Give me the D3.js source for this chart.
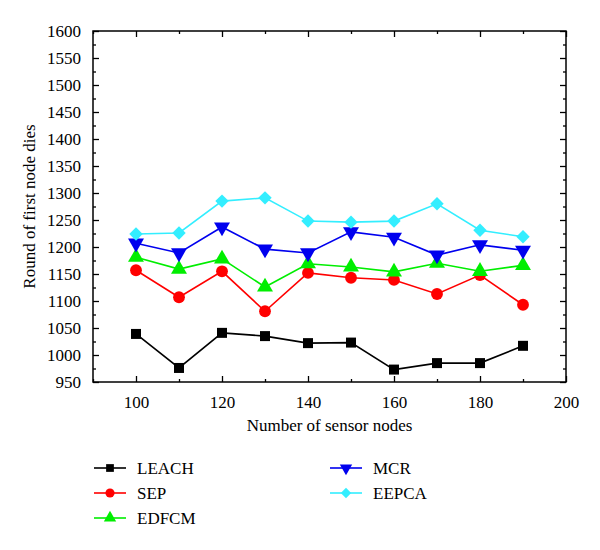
<!DOCTYPE html>
<html><head><meta charset="utf-8">
<script src="https://cdn.jsdelivr.net/npm/d3@7"></script>
<style>body{margin:0;background:#fff}svg{display:block}</style>
</head><body><svg id="c" width="600" height="550"></svg>
<script>
const xValues = [100,110,120,130,140,150,160,170,180,190];
const seriesNames = ["LEACH","SEP","EDFCM","MCR","EEPCA"];
const leach = [1039,976,1041,1035,1022,1023,973,985,985,1017];
const sep   = [1157,1107,1155,1081,1152,1143,1139,1113,1148,1093];
const edfcm = [1181,1159,1178,1126,1169,1163,1154,1170,1155,1166];
const mcr   = [1207,1189,1237,1196,1189,1228,1218,1185,1204,1194];
const eepca = [1224,1226,1285,1291,1248,1246,1248,1280,1231,1219];
const xTicks = [100,120,140,160,180,200];
const yTicks = d3.range(950,1601,50);

(function(){
const FONT = "'Liberation Serif', Tinos, 'Noto Serif', 'DejaVu Serif', 'Nimbus Roman', FreeSerif, Times, serif";
const colors = ["#000000","#ff0000","#00ee00","#0000ee","#33eeff"];
const symbols = [d3.symbolSquare,d3.symbolCircle,d3.symbolTriangle,d3.symbolTriangle,d3.symbolSquare];
const rotations = [0,0,0,180,45];
const sizes = [100,110,110,110,90];
const data = [leach,sep,edfcm,mcr,eepca];

const svg = d3.select("#c");
const L=93,R=566,T=31,B=382;
const x = d3.scaleLinear().domain([90,200]).range([L,R]);
const y = d3.scaleLinear().domain([950,1600]).range([B,T]);

svg.append("rect").attr("x",L).attr("y",T).attr("width",R-L).attr("height",B-T)
  .attr("fill","none").attr("stroke","#000").attr("stroke-width",1.5);

const fs = "17px";
const minorX = d3.range(90,201,10).filter(v=>v%20!==0);
const minorY = d3.range(975,1600,50);
const gs = [];
gs.push(svg.append("g").attr("transform",`translate(0,${B})`)
  .call(d3.axisBottom(x).tickValues(xTicks).tickSize(-6).tickPadding(14).tickFormat(d3.format("d"))));
gs.push(svg.append("g").attr("transform",`translate(0,${B})`)
  .call(d3.axisBottom(x).tickValues(minorX).tickSize(-3).tickFormat("")));
gs.push(svg.append("g").attr("transform",`translate(0,${T})`)
  .call(d3.axisTop(x).tickValues(xTicks).tickSize(-6).tickFormat("")));
gs.push(svg.append("g").attr("transform",`translate(0,${T})`)
  .call(d3.axisTop(x).tickValues(minorX).tickSize(-3).tickFormat("")));
gs.push(svg.append("g").attr("transform",`translate(${L},0)`)
  .call(d3.axisLeft(y).tickValues(yTicks).tickSize(-6).tickPadding(12).tickFormat(d3.format("d"))));
gs.push(svg.append("g").attr("transform",`translate(${L},0)`)
  .call(d3.axisLeft(y).tickValues(minorY).tickSize(-3).tickFormat("")));
gs.push(svg.append("g").attr("transform",`translate(${R},0)`)
  .call(d3.axisRight(y).tickValues(yTicks).tickSize(-6).tickFormat("")));
gs.push(svg.append("g").attr("transform",`translate(${R},0)`)
  .call(d3.axisRight(y).tickValues(minorY).tickSize(-3).tickFormat("")));
gs.forEach(g=>{
  g.select(".domain").remove();
  g.attr("font-family",FONT).attr("font-size",fs);
  g.selectAll("line").attr("stroke","#000").attr("stroke-width",1.3);
  g.selectAll("text").attr("font-family",FONT).attr("fill","#000");
});

svg.append("text").attr("x",(L+R)/2).attr("y",431).attr("text-anchor","middle")
  .attr("font-family",FONT).attr("font-size","17px").text("Number of sensor nodes");
svg.append("text").attr("transform",`translate(35,${(T+B)/2}) rotate(-90)`).attr("text-anchor","middle")
  .attr("font-family",FONT).attr("font-size","17px").text("Round of first node dies");

const line = d3.line().x((d,i)=>x(xValues[i])).y(d=>y(d));
data.forEach((vals,k)=>{
  svg.append("path").datum(vals).attr("d",line).attr("fill","none")
    .attr("stroke",colors[k]).attr("stroke-width",1.6);
  svg.append("g").selectAll("path").data(vals).join("path")
    .attr("d",d3.symbol().type(symbols[k]).size(sizes[k]))
    .attr("transform",(d,i)=>`translate(${x(xValues[i])},${y(d)}) rotate(${rotations[k]})`)
    .attr("fill",colors[k]);
});

const legPos = [[94,468],[94,493],[94,518],[330,468],[330,493]];
seriesNames.forEach((n,k)=>{
  const [lx,ly] = legPos[k];
  const g = svg.append("g").attr("transform",`translate(${lx},${ly})`);
  g.append("line").attr("x1",0).attr("x2",32).attr("y1",0).attr("y2",0)
    .attr("stroke",colors[k]).attr("stroke-width",1.6);
  g.append("path").attr("d",d3.symbol().type(symbols[k]).size(sizes[k]*0.6)())
    .attr("transform",`translate(16,0) rotate(${rotations[k]})`).attr("fill",colors[k]);
  g.append("text").attr("x",43).attr("y",6).attr("font-family",FONT).attr("font-size","17px").text(n);
});
})();
</script></body></html>
